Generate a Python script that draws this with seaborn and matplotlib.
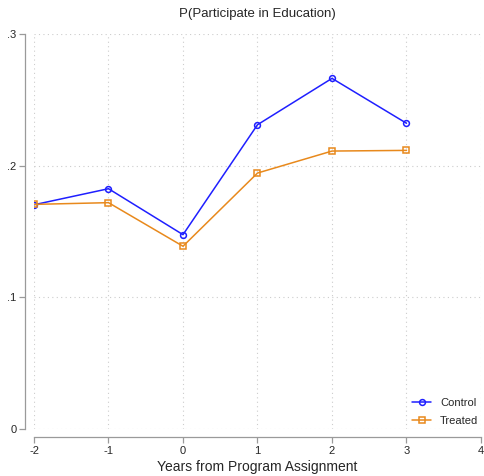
import matplotlib
matplotlib.use("Agg")
import matplotlib.pyplot as plt
import numpy as np
import pandas as pd
import seaborn as sns

years = [-2, -1, 0, 1, 2, 3]
control = [0.1703, 0.1825, 0.1476, 0.2311, 0.2663, 0.2322]
treated = [0.1706, 0.1719, 0.1388, 0.1944, 0.2111, 0.2116]
yticks = [0, 0.1, 0.2, 0.3]
ytick_labels = ["0", ".1", ".2", ".3"]
xticks = [-2, -1, 0, 1, 2, 3, 4]

sns.set_style("white")
plt.rcParams["font.family"] = ["Liberation Sans", "DejaVu Sans"]
plt.rcParams["axes.unicode_minus"] = False

df = pd.DataFrame({"year": years, "Control": control, "Treated": treated})

fig = plt.figure(figsize=(4.85, 4.76), dpi=100)
ax = fig.add_axes([34 / 485, 47 / 476, 447 / 485, 395 / 476])

blue = "#1f1fff"
orange = "#e8891c"
sns.lineplot(data=df, x="year", y="Control", ax=ax, color=blue, lw=1.1,
             marker="o", ms=4.2, mfc="none", mec=blue, mew=1.1, label="Control")
sns.lineplot(data=df, x="year", y="Treated", ax=ax, color=orange, lw=1.1,
             marker="s", ms=4.0, mfc="none", mec=orange, mew=1.1, label="Treated")

ax.set_xlim(-2, 4)
ax.set_ylim(0, 0.3)
ax.set_xticks(xticks)
ax.set_yticks(yticks)
ax.set_yticklabels(ytick_labels)
ax.grid(True, linestyle=(0, (1, 3)), color="#cccccc", lw=0.8)
sns.despine(ax=ax, offset={"left": 6.5, "bottom": 6}, trim=False)
for s in ["left", "bottom"]:
    ax.spines[s].set_color("#9a9a9a")
    ax.spines[s].set_linewidth(0.9)
ax.tick_params(axis="both", bottom=True, left=True, direction="out", length=4,
               width=0.9, color="#9a9a9a", labelsize=8, pad=2)

ax.set_xlabel("Years from Program Assignment", fontsize=10, labelpad=3)
ax.set_ylabel("")
ax.set_title("P(Participate in Education)", fontsize=9.5, pad=12)

ax.legend(loc="lower right", bbox_to_anchor=(1.005, -0.005), frameon=False,
          fontsize=8, handlelength=1.7, handletextpad=0.8, labelspacing=0.75,
          borderaxespad=0.05)

fig.savefig("out.png", dpi=100)
